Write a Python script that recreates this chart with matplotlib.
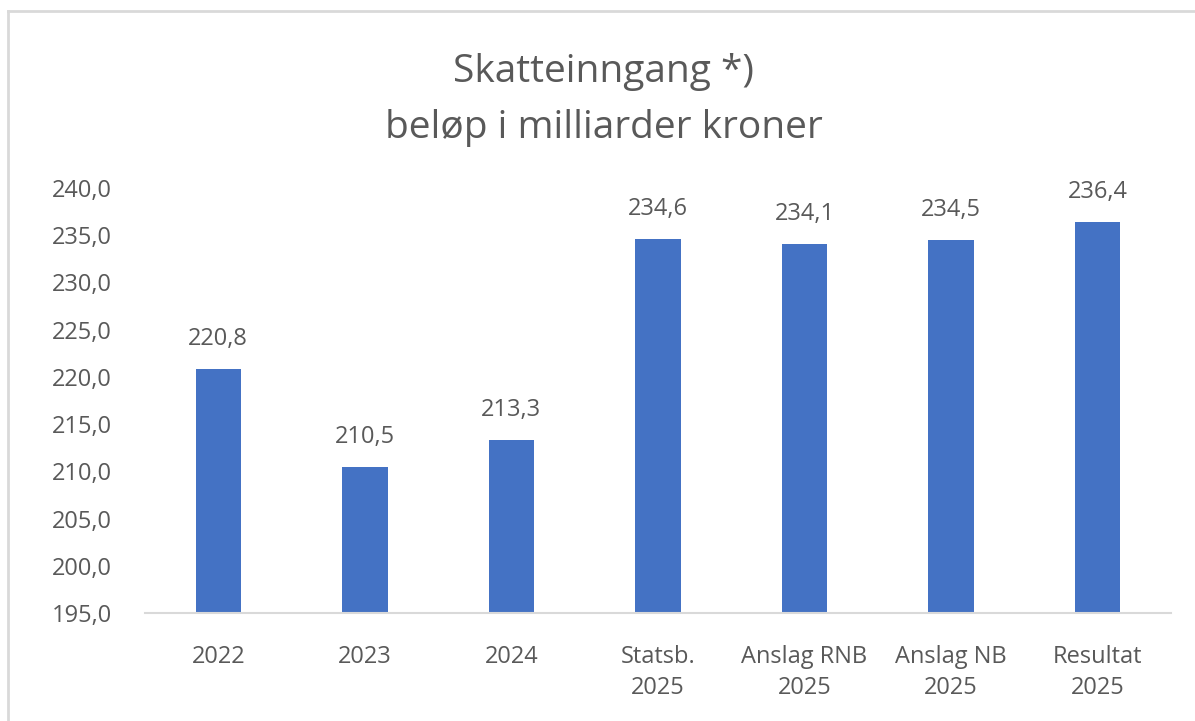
import matplotlib.pyplot as plt
from matplotlib.lines import Line2D

# data
kategorier = ["2022", "2023", "2024", "Statsb.\n2025", "Anslag RNB\n2025",
              "Anslag NB\n2025", "Resultat\n2025"]
verdier = [220.8, 210.5, 213.3, 234.6, 234.1, 234.5, 236.4]
yticks = [195, 200, 205, 210, 215, 220, 225, 230, 235, 240]

plt.rcParams['font.family'] = ['Open Sans', 'DejaVu Sans']
tekst = '#595959'
bla = '#4472C4'

fig = plt.figure(figsize=(11.95, 7.21), dpi=100)
ax = fig.add_axes([0.1213, 0.1498, 0.8586, 0.5895])

x = range(len(kategorier))
ax.bar(x, verdier, width=0.31, color=bla, bottom=0)
ax.set_ylim(195, 240)
ax.set_xlim(-0.5, len(kategorier) - 0.5)
ax.set_yticks(yticks)
ax.set_yticklabels([f"{v:.1f}".replace('.', ',') for v in yticks])
ax.set_xticks(list(x))
ax.set_xticklabels(kategorier)
ax.tick_params(axis='both', length=0, labelsize=17, colors=tekst)
ax.tick_params(axis='y', pad=24)
ax.tick_params(axis='x', pad=23)
for lab in ax.get_xticklabels():
    lab.set_linespacing(1.4)
for s in ['top', 'right', 'left']:
    ax.spines[s].set_visible(False)
ax.spines['bottom'].set_color('#D9D9D9')
ax.spines['bottom'].set_linewidth(1.5)

for i, v in enumerate(verdier):
    ax.annotate(f"{v:.1f}".replace('.', ','), (i, v), xytext=(0, 13),
                textcoords='offset points', ha='center', va='bottom',
                fontsize=17, color=tekst)

fig.text(0.505, 0.9, "Skatteinngang *)", ha='center', va='center',
         fontsize=28, color=tekst)
fig.text(0.505, 0.822, "beløp i milliarder kroner", ha='center', va='center',
         fontsize=28, color=tekst)

# kantlinjer
fig.add_artist(Line2D([0.007, 1.0], [0.985, 0.985], color='#D9D9D9', lw=2,
                      transform=fig.transFigure))
fig.add_artist(Line2D([0.007, 0.007], [0.0, 0.985], color='#D9D9D9', lw=2,
                      transform=fig.transFigure))

fig.savefig('out.png', dpi=100)
